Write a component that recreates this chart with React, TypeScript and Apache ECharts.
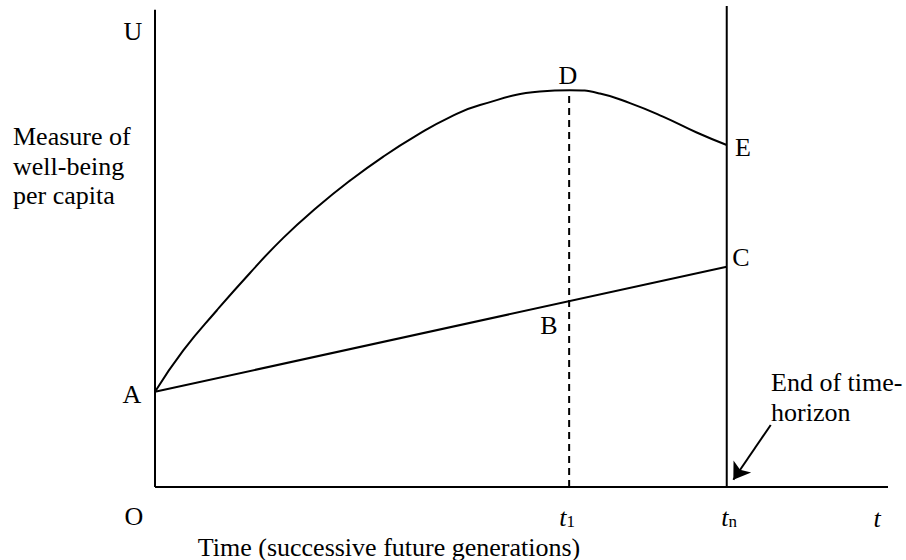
import React, { useEffect, useRef } from "react";
import * as echarts from "echarts";

// Well-being curve A → D → E (data units: x 0..100 time, y 0..100 well-being)
const curveX = [0, 3.86, 8.42, 12.96, 17.5, 22.06, 26.6, 31.15, 35.7, 40.25, 44.34, 52.5, 56.6, 60.7, 64.8, 69.3, 73.9, 78.0];
const curveY = [19.8, 28.4, 36.7, 44.5, 51.8, 58.1, 63.7, 68.7, 73.1, 76.9, 79.4, 82.2, 82.5, 81.8, 79.8, 77.0, 73.7, 71.1];
// Straight line A → C
const straightX = [0, 78.0];
const straightY = [19.8, 45.8];
// t1 (peak D) and tn (end of horizon)
const t1 = 56.5;
const tn = 78.0;
const peakY = 82.5;
const axisXMax = 100;
const axisYMax = 99.2;
const horizonTop = 100;
// arrow from annotation to tn
const arrowFrom = [84.0, 12.9];
const arrowTo = [78.9, 1.5];

const FONT = "Liberation Serif";

function zip(xs: number[], ys: number[]) {
  return xs.map((x, i) => [x, ys[i]]);
}

export default function App() {
  const ref = useRef<HTMLDivElement>(null);
  useEffect(() => {
    if (!ref.current) return;
    const chart = echarts.init(ref.current, undefined, { renderer: "svg" });
    const black = "#000";
    const lineBase = { symbol: "none", silent: true, animation: false };
    const txt = (text: string, x: number, y: number, extra: any = {}) => ({
      type: "text",
      x,
      y,
      style: {
        text,
        fill: black,
        fontFamily: FONT,
        fontSize: 26,
        align: "center",
        verticalAlign: "middle",
        ...extra,
      },
    });
    const rich = {
      i: { fontFamily: FONT, fontSize: 26, fontStyle: "italic", fill: black, lineHeight: 24, verticalAlign: "bottom" },
      s: { fontFamily: FONT, fontSize: 17, fill: black, lineHeight: 24, verticalAlign: "bottom" },
    };
    chart.setOption({
      animation: false,
      grid: { left: 155, right: 18, top: 6, bottom: 73 },
      xAxis: { type: "value", min: 0, max: 100, show: false },
      yAxis: { type: "value", min: 0, max: 100, show: false },
      series: [
        {
          ...lineBase,
          type: "line",
          data: zip([0, 0], [0, axisYMax]),
          lineStyle: { color: black, width: 2 },
        },
        {
          ...lineBase,
          type: "line",
          data: zip([0, axisXMax], [0, 0]),
          lineStyle: { color: black, width: 2 },
        },
        {
          ...lineBase,
          type: "line",
          data: zip([tn, tn], [0, horizonTop]),
          lineStyle: { color: black, width: 2 },
        },
        {
          ...lineBase,
          type: "line",
          data: zip([t1, t1], [0, peakY]),
          lineStyle: { color: black, width: 2, type: [7, 5] },
        },
        {
          ...lineBase,
          type: "line",
          data: zip(straightX, straightY),
          lineStyle: { color: black, width: 2 },
        },
        {
          ...lineBase,
          type: "line",
          smooth: 0.5,
          data: zip(curveX, curveY),
          lineStyle: { color: black, width: 2 },
          markLine: {
            silent: true,
            symbol: ["none", "arrow"],
            symbolSize: 16,
            label: { show: false },
            lineStyle: { color: black, width: 2, type: "solid" },
            data: [[{ coord: arrowFrom }, { coord: arrowTo }]],
          },
        },
      ],
      graphic: [
        txt("U", 133, 31),
        txt("A", 132, 394),
        txt("B", 549, 325),
        txt("C", 741, 257),
        txt("D", 568, 75),
        txt("E", 743, 147),
        txt("O", 134, 516),
        txt("Measure of\nwell-being\nper capita", 13, 122, {
          align: "left",
          verticalAlign: "top",
          lineHeight: 29.5,
        }),
        txt("End of time-\nhorizon", 771, 367, {
          align: "left",
          verticalAlign: "top",
          lineHeight: 30,
        }),
        txt("Time (successive future generations)", 389, 547, { lineHeight: 26 }),
        {
          type: "text",
          x: 567,
          y: 518,
          style: { text: "{i|t}{s|1}", rich, align: "center", verticalAlign: "middle" },
        },
        {
          type: "text",
          x: 729,
          y: 518,
          style: { text: "{i|t}{s|n}", rich, align: "center", verticalAlign: "middle" },
        },
        txt("t", 877, 518, { fontStyle: "italic", lineHeight: 24 }),
      ],
    });
    return () => chart.dispose();
  }, []);
  return (
    <div
      ref={ref}
      style={{ position: "fixed", left: 0, top: 0, width: 906, height: 560, background: "#fff" }}
    />
  );
}
